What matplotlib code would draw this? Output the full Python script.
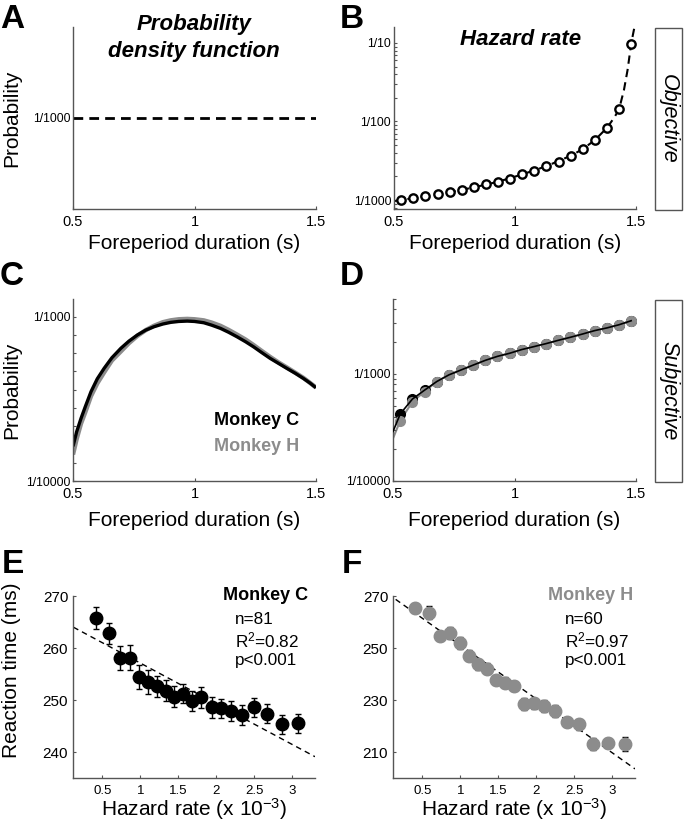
import numpy as np
import matplotlib
matplotlib.use('Agg')
from matplotlib import pyplot as plt
from matplotlib.patches import Rectangle
from matplotlib.ticker import FixedLocator, NullFormatter, LogLocator

plt.rcParams['font.family'] = ['Liberation Sans', 'DejaVu Sans']
plt.rcParams['mathtext.fontset'] = 'custom'
plt.rcParams['mathtext.rm'] = 'Liberation Sans'
plt.rcParams['mathtext.it'] = 'Liberation Sans:italic'
plt.rcParams['mathtext.bf'] = 'Liberation Sans:bold'
plt.rcParams['mathtext.default'] = 'regular'

GRAY = '#8c8c8c'
SPINE = '#555555'
LABEL_FS = 15

# --- A: objective density (uniform)
pdf_x = [0.5, 1.5]
pdf_y = [1/1000, 1/1000]

# --- B: objective hazard rate
bin_x = [0.53, 0.58, 0.63, 0.68, 0.73, 0.78, 0.83, 0.88, 0.93, 0.98,
         1.03, 1.08, 1.13, 1.18, 1.23, 1.28, 1.33, 1.38, 1.43, 1.48]
hazard_obj = [0.00100, 0.00105, 0.00112, 0.00120, 0.00126, 0.00135, 0.00145,
              0.00160, 0.00171, 0.00187, 0.00212, 0.00234, 0.00270, 0.00307,
              0.00366, 0.00445, 0.00580, 0.00830, 0.0143, 0.098]
hz_curve_x = [0.5, 0.53, 0.63, 0.73, 0.83, 0.93, 1.03, 1.13, 1.23, 1.28, 1.33,
              1.38, 1.41, 1.43, 1.45, 1.465, 1.475, 1.48, 1.49, 1.497]
hz_curve_y = [0.00097, 0.00100, 0.00112, 0.00126, 0.00145, 0.00171, 0.00212,
              0.00270, 0.00366, 0.00445, 0.00580, 0.00830, 0.0112, 0.0143,
              0.025, 0.045, 0.075, 0.098, 0.14, 0.18]

# --- C: subjective density
spdf_x = [0.5, 0.515, 0.533, 0.55, 0.574, 0.60, 0.628, 0.66, 0.697, 0.73,
          0.765, 0.80, 0.833, 0.87, 0.902, 0.935, 0.97, 1.0, 1.038, 1.07,
          1.107, 1.14, 1.175, 1.21, 1.243, 1.275, 1.311, 1.345, 1.38, 1.415,
          1.448, 1.475, 1.5]
spdf_c = [2.9e-4, 3.7e-4, 4.43e-4, 5.05e-4, 5.89e-4, 6.6e-4, 7.17e-4, 7.75e-4,
          8.27e-4, 8.66e-4, 9.0e-4, 9.27e-4, 9.45e-4, 9.6e-4, 9.69e-4, 9.74e-4,
          9.76e-4, 9.74e-4, 9.67e-4, 9.54e-4, 9.36e-4, 9.15e-4, 8.9e-4, 8.63e-4,
          8.35e-4, 8.05e-4, 7.72e-4, 7.45e-4, 7.17e-4, 6.9e-4, 6.62e-4, 6.37e-4,
          6.11e-4]
spdf_h = [2.45e-4, 3.3e-4, 4.15e-4, 4.75e-4, 5.65e-4, 6.35e-4, 6.95e-4, 7.6e-4,
          8.1e-4, 8.55e-4, 8.95e-4, 9.27e-4, 9.5e-4, 9.7e-4, 9.8e-4, 9.86e-4,
          9.88e-4, 9.86e-4, 9.8e-4, 9.68e-4, 9.5e-4, 9.28e-4, 9.02e-4, 8.75e-4,
          8.45e-4, 8.14e-4, 7.8e-4, 7.5e-4, 7.22e-4, 6.93e-4, 6.65e-4, 6.38e-4,
          6.12e-4]

# --- D: subjective hazard rate
shz_c = [4.24e-4, 5.83e-4, 7.06e-4, 8.49e-4, 9.8e-4, 1.089e-3, 1.21e-3,
         1.34e-3, 1.46e-3, 1.56e-3, 1.69e-3, 1.80e-3, 1.92e-3, 2.06e-3,
         2.20e-3, 2.36e-3, 2.54e-3, 2.69e-3, 2.88e-3, 3.14e-3]
shz_h = [3.67e-4, 5.50e-4, 6.85e-4, 8.49e-4, 9.8e-4, 1.089e-3, 1.21e-3,
         1.34e-3, 1.46e-3, 1.56e-3, 1.69e-3, 1.80e-3, 1.92e-3, 2.06e-3,
         2.20e-3, 2.36e-3, 2.54e-3, 2.69e-3, 2.88e-3, 3.14e-3]
shz_start = [0.5, 2.9e-4, 2.5e-4]   # x, monkey C, monkey H at left edge

# --- E: reaction time vs hazard, monkey C
hr_c = [0.417, 0.592, 0.733, 0.864, 0.987, 1.105, 1.216, 1.334, 1.443, 1.558,
        1.676, 1.799, 1.939, 2.058, 2.193, 2.338, 2.50, 2.671, 2.86, 3.08]
rt_c = [265.8, 262.8, 258.0, 258.1, 254.4, 253.5, 252.6, 251.8, 250.6, 251.2,
        249.8, 250.5, 248.6, 248.4, 247.9, 247.1, 248.6, 247.4, 245.3, 245.5]
err_c = [2.1, 2.0, 2.3, 2.4, 2.3, 2.3, 2.0, 2.0, 2.0, 1.8,
         2.0, 2.0, 2.0, 1.8, 2.0, 2.0, 1.8, 1.8, 1.8, 1.9]
fit_c_x = [0.12, 3.30]
fit_c_y = [264.0, 239.1]

# --- F: reaction time vs hazard, monkey H
hr_h = [0.405, 0.587, 0.730, 0.868, 0.998, 1.115, 1.228, 1.354, 1.475, 1.592,
        1.713, 1.843, 1.973, 2.103, 2.246, 2.399, 2.564, 2.746, 2.949, 3.166]
rt_h = [265.3, 263.6, 254.5, 255.8, 252.0, 247.1, 243.7, 242.1, 237.7, 236.7,
        235.4, 228.4, 228.7, 227.8, 225.8, 221.6, 220.6, 213.1, 213.5, 213.1]
err_h = [2.0, 2.5, 2.0, 2.3, 2.3, 2.0, 2.0, 2.0, 2.0, 2.2,
         2.0, 2.3, 2.2, 2.3, 2.3, 1.8, 2.0, 2.3, 2.0, 2.8]
fit_h_x = [0.15, 3.30]
fit_h_y = [268.7, 203.5]

W, H = 693, 824
fig = plt.figure(figsize=(W/100, H/100), dpi=100)


def axes_px(left, top, right, bottom):
    return fig.add_axes([left/W, 1 - bottom/H, (right-left)/W, (bottom-top)/H])


def style(ax):
    for s in ['top', 'right']:
        ax.spines[s].set_visible(False)
    for s in ['left', 'bottom']:
        ax.spines[s].set_color(SPINE)
        ax.spines[s].set_linewidth(1.0)
    ax.tick_params(which='both', direction='in', color=SPINE, length=2.5, width=0.8)
    ax.tick_params(which='minor', length=2)
    ax.patch.set_alpha(0)


def fore_xaxis(ax, ylab_y=-0.15):
    ax.set_xlim(0.5, 1.5)
    ax.set_xticks([0.5, 1, 1.5])
    ax.set_xticklabels(['0.5', '1', '1.5'])
    ax.tick_params(axis='x', labelsize=10.5, pad=4)
    ax.set_xlabel('Foreperiod duration (s)', fontsize=LABEL_FS)
    ax.xaxis.set_label_coords(0.5, ylab_y)


# A
axA = axes_px(73, 27, 316, 209)
style(axA)
axA.plot(pdf_x, pdf_y, color='black', lw=2, ls=(0, (3.5, 2.2)))
axA.set_ylim(0, 0.002)
axA.set_yticks([0.001])
axA.set_yticklabels(['1/1000'])
axA.tick_params(axis='y', labelsize=8.8, pad=2)
axA.set_ylabel('Probability', fontsize=LABEL_FS)
axA.yaxis.set_label_coords(-0.215, 0.5)
fore_xaxis(axA, -0.135)

# B
axB = axes_px(394, 27, 636, 209)
style(axB)
axB.plot(hz_curve_x, hz_curve_y, color='black', lw=1.5, ls=(0, (4, 2.5)), zorder=2)
axB.plot(bin_x, hazard_obj, 'o', ms=6, mfc='white', mec='black', mew=1.7, zorder=3)
axB.set_yscale('log')
axB.set_ylim(10**-3.114, 10**-0.797)
axB.yaxis.set_major_locator(FixedLocator([1e-3, 1e-2, 1e-1]))
axB.set_yticklabels(['1/1000', '1/100', '1/10'])
axB.yaxis.set_minor_locator(LogLocator(base=10, subs=np.arange(2, 10)))
axB.yaxis.set_minor_formatter(NullFormatter())
axB.tick_params(axis='y', labelsize=8.8, pad=2)
fore_xaxis(axB, -0.135)

# C
axC = axes_px(73, 299, 316, 481)
style(axC)
axC.plot(spdf_x, spdf_h, color=GRAY, lw=3.2, solid_capstyle='butt')
axC.plot(spdf_x, spdf_c, color='black', lw=2.4, solid_capstyle='butt')
axC.set_ylim(1e-4, 1.097e-3)
axC.yaxis.set_major_locator(FixedLocator([1e-4, 1e-3]))
axC.set_yticklabels(['1/10000', '1/1000'])
axC.yaxis.set_minor_locator(FixedLocator(np.arange(2, 10) * 1e-4))
axC.tick_params(axis='y', labelsize=8.8, pad=2)
axC.set_ylabel('Probability', fontsize=LABEL_FS)
axC.yaxis.set_label_coords(-0.215, 0.5)
fore_xaxis(axC, -0.165)
axC.text(0.93, 0.33, 'Monkey C', transform=axC.transAxes, ha='right', va='center',
         fontsize=13, fontweight='bold', color='black')
axC.text(0.93, 0.19, 'Monkey H', transform=axC.transAxes, ha='right', va='center',
         fontsize=13, fontweight='bold', color=GRAY)

# D
axD = axes_px(393, 299, 636, 481)
style(axD)
axD.plot(bin_x, shz_c, 'o', ms=7, color='black', zorder=2)
axD.plot(bin_x, shz_h, 'o', ms=7, color=GRAY, zorder=3)
axD.plot([shz_start[0]] + bin_x, [shz_start[2]] + shz_h, color=GRAY, lw=1.5, zorder=1)
axD.plot([shz_start[0]] + bin_x, [shz_start[1]] + shz_c, color='black', lw=1.2, zorder=4)
axD.set_yscale('log')
axD.set_ylim(1e-4, 10**-2.30)
axD.yaxis.set_major_locator(FixedLocator([1e-4, 1e-3]))
axD.set_yticklabels(['1/10000', '1/1000'])
axD.yaxis.set_minor_locator(LogLocator(base=10, subs=np.arange(2, 10)))
axD.yaxis.set_minor_formatter(NullFormatter())
axD.tick_params(axis='y', labelsize=8.8, pad=2)
fore_xaxis(axD, -0.165)


def rt_axes(ax, x, y, e, fx, fy, col, ylim, yticks):
    style(ax)
    ax.plot(fx, fy, color='black', lw=1, ls=(0, (4, 3)), zorder=1)
    ax.errorbar(x, y, yerr=e, fmt='none', ecolor='black', elinewidth=1,
                capsize=2, capthick=1, zorder=2)
    ax.plot(x, y, 'o', ms=9, color=col, zorder=3)
    ax.set_xlim(0.115, 3.3)
    ax.set_ylim(*ylim)
    ax.set_xticks([0.5, 1, 1.5, 2, 2.5, 3])
    ax.set_xticklabels(['0.5', '1', '1.5', '2', '2.5', '3'])
    ax.set_yticks(yticks)
    ax.tick_params(axis='x', labelsize=9.5, pad=5)
    ax.tick_params(axis='y', labelsize=11, pad=3.5)
    ax.set_xlabel('Hazard rate (x 10$^{-3}$)', fontsize=LABEL_FS)
    ax.xaxis.set_label_coords(0.5, -0.10)


# E
axE = axes_px(73, 596, 315, 778)
rt_axes(axE, hr_c, rt_c, err_c, fit_c_x, fit_c_y, 'black', (235, 270), [240, 250, 260, 270])
axE.set_ylabel('Reaction time (ms)', fontsize=LABEL_FS)
axE.yaxis.set_label_coords(-0.215, 0.59)

# F
axF = axes_px(393, 596, 635, 778)
rt_axes(axF, hr_h, rt_h, err_h, fit_h_x, fit_h_y, GRAY, (200, 270), [210, 230, 250, 270])

stats = [(axE, 'Monkey C', 'black', 'n=81', '0.82', 308, 235),
         (axF, 'Monkey H', GRAY, 'n=60', '0.97', 633, 565)]
for ax, name, col, n, r2, xr, xl in stats:
    fig.text(xr/W, 1 - 596/H, name, ha='right', va='center', fontsize=13,
             fontweight='bold', color=col)
    fig.text(xl/W, 1 - 620/H, n, ha='left', va='center', fontsize=12.3)
    fig.text(xl/W, 1 - 640/H, 'R$^2$=' + r2, ha='left', va='center', fontsize=12.3)
    fig.text(xl/W, 1 - 660/H, 'p<0.001', ha='left', va='center', fontsize=12.3)

# titles
fig.text(194/W, 1 - 30/H, 'Probability', ha='center', va='baseline', fontsize=16,
         fontweight='bold', style='italic')
fig.text(194/W, 1 - 57/H, 'density function', ha='center', va='baseline', fontsize=16,
         fontweight='bold', style='italic')
fig.text(521/W, 1 - 45/H, 'Hazard rate', ha='center', va='baseline', fontsize=16,
         fontweight='bold', style='italic')

# panel letters
for letter, xp, yp in [('A', 0, 28), ('B', 340, 28), ('C', 0, 285),
                       ('D', 340, 285), ('E', 2, 573), ('F', 342, 573)]:
    fig.text(xp/W, 1 - yp/H, letter, ha='left', va='baseline', fontsize=24,
             fontweight='bold')

# side boxes
for label, top, bottom in [('Objective', 28, 210), ('Subjective', 300, 482)]:
    fig.patches.append(Rectangle((655/W, 1 - bottom/H), 27/W, (bottom-top)/H,
                                 transform=fig.transFigure, fill=False,
                                 edgecolor=SPINE, lw=1))
    fig.text(668.5/W, 1 - (top+bottom)/2/H, label, rotation=-90, ha='center',
             va='center', fontsize=15.5, style='italic')

fig.savefig('out.png', dpi=100)
